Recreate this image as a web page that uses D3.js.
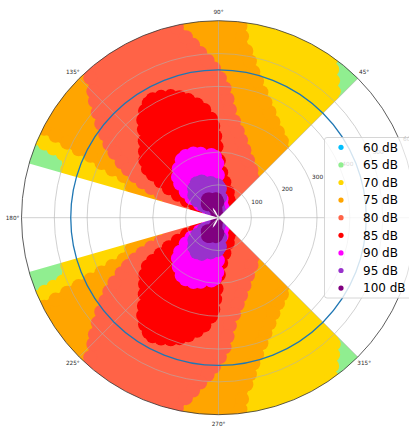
<!DOCTYPE html>
<html>
<head>
<meta charset="utf-8">
<script src="https://cdn.jsdelivr.net/npm/d3@7"></script>
<style>
  html, body { margin: 0; padding: 0; background: #fff; }
  svg { display: block; font-family: "DejaVu Sans", sans-serif; }
</style>
</head>
<body>
<svg id="chart" width="409" height="426"></svg>
<script>
// Polar angles (degrees, counter-clockwise from east) where each contour radius is given.
// The lower lobe is the mirror image of the upper one.
const ANGLES = [45, 48, 52, 56, 60, 65, 70, 75, 80, 85, 90, 95, 100, 105, 110, 115, 120, 125, 130, 135, 140, 145, 150, 154, 157, 160, 164];

// Outer radius (m) of the area at or above each level, one value per angle.
const R_70DB  = [527, 554, 594, 650, 700, 700, 700, 700, 700, 700, 700, 700, 700, 700, 700, 700, 700, 700, 700, 700, 700, 700, 700, 700, 700, 518, 500];
const R_75DB  = [314, 320, 332, 344, 362, 390, 426, 475, 548, 700, 700, 700, 700, 700, 700, 700, 700, 700, 700, 700, 700, 700, 700, 680, 435, 320, 290];
const R_80DB  = [186, 189, 195, 204, 216, 235, 259, 289, 329, 411, 472, 524, 591, 700, 700, 700, 700, 700, 700, 573, 512, 451, 396, 341, 298, 253, 186];
const R_85DB  = [85, 88, 91, 94, 97, 104, 116, 131, 152, 198, 305, 347, 375, 399, 417, 429, 436, 420, 390, 347, 320, 298, 268, 204, 168, 134, 100];
const R_90DB  = [58, 59, 61, 64, 67, 70, 75, 82, 110, 183, 207, 213, 216, 225, 231, 234, 234, 228, 216, 204, 189, 167, 137, 116, 94, 76, 61];
const R_95DB  = [43, 44, 46, 49, 52, 60, 79, 97, 110, 116, 122, 125, 129, 134, 140, 145, 146, 145, 140, 134, 125, 116, 107, 91, 79, 67, 52];
const R_100DB = [30, 32, 34, 37, 40, 44, 52, 61, 69, 73, 76, 78, 79, 81, 82, 84, 84, 84, 81, 76, 72, 67, 58, 49, 43, 38, 34];
// Unsampled core right at the source.
const R_CORE  = [6, 6, 6, 6, 6, 6, 6, 6, 6, 6, 6, 6, 6, 6, 9, 24, 35, 27, 12, 6, 6, 6, 6, 6, 6, 6, 6];

const LEVEL_LABELS = ["60 dB", "65 dB", "70 dB", "75 dB", "80 dB", "85 dB", "90 dB", "95 dB", "100 dB"];
const LEVEL_COLORS = ["deepskyblue", "lightgreen", "gold", "orange", "tomato", "red", "magenta", "darkorchid", "purple"];

const R_TICKS = [100, 200, 300, 400, 500, 600];
const R_MAX = 600;
const THETA_TICKS = [0, 45, 90, 135, 180, 225, 270, 315];
const REF_RADIUS = 450;          // reference distance ring
const SECTOR = [45, 164];        // measured sector (upper lobe)

// ---------------------------------------------------------------
const width = 409, height = 426;
const cx = 218.5, cy = 217.7, R = 197;
const svg = d3.select("#chart");
const r = d3.scaleLinear().domain([0, R_MAX]).range([0, R]);
const rad = d => d * Math.PI / 180;

const defs = svg.append("defs");
// clip: upper and lower measured sectors (d3 arc angles: 0 = north, clockwise)
const clip = defs.append("clipPath").attr("id", "sector");
const arc = d3.arc().innerRadius(0).outerRadius(R);
clip.append("path")
  .attr("transform", `translate(${cx},${cy})`)
  .attr("d", arc({ startAngle: rad(90 - SECTOR[1]), endAngle: rad(90 - SECTOR[0]) }));
clip.append("path")
  .attr("transform", `translate(${cx},${cy})`)
  .attr("d", arc({ startAngle: rad(90 + SECTOR[0]), endAngle: rad(90 + SECTOR[1]) }));
defs.append("filter").attr("id", "soft")
  .attr("x", "-5%").attr("y", "-5%").attr("width", "110%").attr("height", "110%")
  .append("feGaussianBlur").attr("stdDeviation", 0.7);

const field = svg.append("g").attr("clip-path", "url(#sector)")
  .append("g").attr("filter", "url(#soft)");

// lowest band fills the whole measured sector
field.append("circle").attr("cx", cx).attr("cy", cy).attr("r", R + 4)
  .attr("fill", LEVEL_COLORS[1]);

const line = d3.line().x(d => d[0]).y(d => d[1]);
const BLOB = 7;      // marker radius, px
const STEP = 10;     // marker spacing along a contour, px

// Sample a contour and return boundary points (math coords, px) with inward normals.
function contour(values, mirror) {
  const f = d3.scaleLinear().domain(ANGLES).range(values).clamp(true);
  const pts = [];
  for (let t = SECTOR[0] - 2; t <= SECTOR[1] + 2 + 1e-9; t += 0.5) {
    const th = rad(mirror ? -t : t);
    const rp = r(Math.min(f(t), 700));
    pts.push({ X: rp * Math.cos(th), Y: rp * Math.sin(th), rp });
  }
  pts.forEach((p, i) => {
    const a = pts[Math.max(0, i - 1)], b = pts[Math.min(pts.length - 1, i + 1)];
    let tx = b.X - a.X, ty = b.Y - a.Y;
    const L = Math.hypot(tx, ty) || 1;
    tx /= L; ty /= L;
    // counter-clockwise walk keeps the inside on the left, clockwise on the right
    p.nx = mirror ? ty : -ty;
    p.ny = mirror ? -tx : tx;
  });
  return pts;
}

function drawLevel(values, color, blobs) {
  [false, true].forEach(mirror => {
    const pts = contour(values, mirror);
    const inset = blobs ? 3 : 0;
    const poly = [[cx, cy]].concat(pts.map(p => {
      const k = p.rp > inset * 2 ? inset : 0;
      return [cx + p.X + p.nx * k, cy - (p.Y + p.ny * k)];
    }));
    field.append("path").attr("d", line(poly) + "Z").attr("fill", color);
    if (!blobs) return;
    // round marker edges along the contour
    const dots = [];
    let acc = 0;
    for (let i = 1; i < pts.length; i++) {
      acc += Math.hypot(pts[i].X - pts[i - 1].X, pts[i].Y - pts[i - 1].Y);
      if (acc >= STEP && pts[i].rp < R + 10 && pts[i].rp > 10) {
        acc = 0;
        dots.push([cx + pts[i].X + pts[i].nx * BLOB, cy - (pts[i].Y + pts[i].ny * BLOB)]);
      }
    }
    field.append("g").selectAll("circle").data(dots).join("circle")
      .attr("cx", d => d[0]).attr("cy", d => d[1]).attr("r", BLOB).attr("fill", color);
  });
}

const levels = [R_70DB, R_75DB, R_80DB, R_85DB, R_90DB, R_95DB, R_100DB];
levels.forEach((vals, i) => drawLevel(vals, LEVEL_COLORS[i + 2], true));
drawLevel(R_CORE, "#ffffff", false);

// ---------------- polar grid ----------------
const grid = svg.append("g");
grid.selectAll("circle.ring").data(R_TICKS.filter(v => v < R_MAX)).join("circle")
  .attr("class", "ring").attr("cx", cx).attr("cy", cy).attr("r", d => r(d))
  .attr("fill", "none").attr("stroke", "#b0b0b0").attr("stroke-width", 0.6);
grid.selectAll("line").data(THETA_TICKS).join("line")
  .attr("x1", cx).attr("y1", cy)
  .attr("x2", d => cx + R * Math.cos(rad(d)))
  .attr("y2", d => cy - R * Math.sin(rad(d)))
  .attr("stroke", "#b0b0b0").attr("stroke-width", 0.6);
// spine
svg.append("circle").attr("cx", cx).attr("cy", cy).attr("r", r(R_MAX))
  .attr("fill", "none").attr("stroke", "#333").attr("stroke-width", 0.8);

// reference ring
svg.append("circle").attr("cx", cx).attr("cy", cy).attr("r", r(REF_RADIUS))
  .attr("fill", "none").attr("stroke", "#1f77b4").attr("stroke-width", 1.3);

// angle labels (the 0° one falls past the right edge of the figure)
const thetaLabelPos = d => [cx + (R + 9) * Math.cos(rad(d)), cy - (R + 9) * Math.sin(rad(d))];
svg.append("g").selectAll("text")
  .data(THETA_TICKS.filter(d => thetaLabelPos(d)[0] < width - 6))
  .join("text")
  .attr("x", d => thetaLabelPos(d)[0])
  .attr("y", d => thetaLabelPos(d)[1])
  .attr("text-anchor", "middle").attr("dy", "0.35em")
  .attr("font-size", 5.7).attr("fill", "#262626")
  .text(d => `${d}°`);

// radial labels along 22.5°
svg.append("g").selectAll("text").data(R_TICKS).join("text")
  .attr("x", d => cx + r(d) * Math.cos(rad(22.5)) + 2.5)
  .attr("y", d => cy - r(d) * Math.sin(rad(22.5)) - 1.2)
  .attr("font-size", 5.8).attr("fill", "#262626")
  .text(d => d);

// ---------------- legend ----------------
const leg = svg.append("g");
leg.append("rect").attr("x", 324.5).attr("y", 137.5).attr("width", 100).attr("height", 160.5)
  .attr("rx", 2.5).attr("fill", "#fff").attr("fill-opacity", 0.8)
  .attr("stroke", "#cccccc").attr("stroke-width", 0.8);
const items = leg.selectAll("g.item").data(LEVEL_LABELS).join("g")
  .attr("class", "item")
  .attr("transform", (d, i) => `translate(0,${147.3 + i * 17.6})`);
items.append("circle").attr("cx", 341).attr("cy", 0).attr("r", 2.6)
  .attr("fill", (d, i) => LEVEL_COLORS[i]);
items.append("text").attr("x", 363).attr("y", 0).attr("dy", "0.36em")
  .attr("font-size", 12).attr("fill", "#000").text(d => d);
</script>
</body>
</html>
